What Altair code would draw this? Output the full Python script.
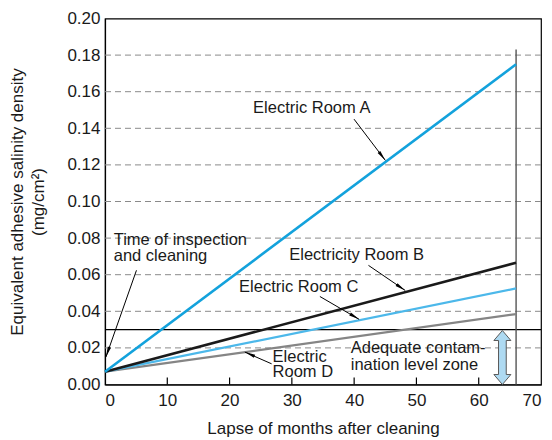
import math
import altair as alt
import pandas as pd

# ---------------- data ----------------
months = [0, 66]
room_a = [0.007, 0.175]
room_b = [0.007, 0.0665]
room_c = [0.007, 0.0525]
room_d = [0.007, 0.0385]
series_names = ["Electric Room D", "Electric Room C", "Electricity Room B", "Electric Room A"]
series_colors = ["#858585", "#4cb8ea", "#1a1a1a", "#13a2dc"]
series_widths = [2.2, 2.2, 2.6, 2.6]

x_ticks = [0, 10, 20, 30, 40, 50, 60, 70]
y_ticks = [0.0, 0.02, 0.04, 0.06, 0.08, 0.10, 0.12, 0.14, 0.16, 0.18, 0.20]
grid_y = [0.02, 0.04, 0.06, 0.08, 0.10, 0.12, 0.14, 0.16, 0.18]
limit_level = 0.03
inspection_month = 66
inspection_top = 0.183
zone_month = 63.8
zone_range = [0.0, 0.0295]

# annotation texts (lines), anchor in data units
ann_text = [
    "Electric Room A",
    "Time of inspection", "and cleaning",
    "Electricity Room B",
    "Electric Room C",
    "Electric", "Room D",
    "Adequate contam-", "ination level zone",
]
ann_x = [33.2, 1.4, 1.4, 40.4, 31.1, 26.9, 26.9, 39.45, 39.45]
ann_y = [0.1510, 0.0791, 0.0700, 0.0709, 0.0532, 0.0149, 0.0066, 0.0199, 0.0107]
ann_align = ["center", "left", "left", "center", "center", "left", "left", "left", "left"]

# arrows: start -> tip
arr_x = [39.98, 5.05, 42.3, 34.5, 26.75]
arr_y = [0.1450, 0.0624, 0.0651, 0.0481, 0.0113]
arr_x2 = [45.0, 0.15, 48.2, 40.8, 22.46]
arr_y2 = [0.1225, 0.0150, 0.0514, 0.0356, 0.0177]

# ---------------- layout ----------------
W, H = 436, 366
XMAX, YMAX = 70, 0.20
FONT = "Liberation Sans"

xs = alt.Scale(domain=[0, XMAX], nice=False, zero=False)
ys = alt.Scale(domain=[0, YMAX], nice=False, zero=False)

x_axis = alt.Axis(values=x_ticks, format="d", title="Lapse of months after cleaning",
                  ticks=False, grid=False, domainColor="black", domainWidth=1.2,
                  labelPadding=8, titlePadding=12, labelOverlap=False)
y_axis = alt.Axis(values=y_ticks, format=".2f",
                  title=["Equivalent adhesive salinity density", "(mg/cm²)"],
                  ticks=False, grid=False, domainColor="black", domainWidth=1.2,
                  labelPadding=5, titlePadding=19, titleLineHeight=21,
                  labelOverlap=False)


def X(field):
    return alt.X(field, scale=xs, axis=x_axis)


def Y(field):
    return alt.Y(field, scale=ys, axis=y_axis)


rows = []
for name, vals in zip(series_names, [room_d, room_c, room_b, room_a]):
    for m, v in zip(months, vals):
        rows.append({"series": name, "month": m, "value": v})
lines_df = pd.DataFrame(rows)

base_axes = alt.Chart(pd.DataFrame({"x": [0], "y": [0]})).mark_point(opacity=0).encode(
    x=X("x:Q"), y=Y("y:Q"),
)

grid = alt.Chart(pd.DataFrame({"y": grid_y})).mark_rule(
    color="#8a8a8a", strokeWidth=1, strokeDash=[6, 4]
).encode(y=Y("y:Q"))

hline = alt.Chart(pd.DataFrame({"y": [limit_level]})).mark_rule(
    color="black", strokeWidth=1.1
).encode(y=Y("y:Q"))

vline = alt.Chart(pd.DataFrame({"x": [inspection_month], "y": [0.0], "y2": [inspection_top]})).mark_rule(
    color="#555555", strokeWidth=1.4
).encode(x=X("x:Q"), y=Y("y:Q"), y2="y2:Q")

line_layers = []
for name, col, w in zip(series_names, series_colors, series_widths):
    line_layers.append(
        alt.Chart(lines_df[lines_df.series == name]).mark_line(color=col, strokeWidth=w).encode(
            x=X("month:Q"), y=Y("value:Q")
        )
    )

ticks = alt.Chart(pd.DataFrame({"x": x_ticks[1:-1]})).mark_rule(color="black", strokeWidth=1.2).encode(
    x=X("x:Q"), y=alt.value(H), y2=alt.value(H - 7)
)

arrow_df = pd.DataFrame({"x": arr_x, "y": arr_y, "x2": arr_x2, "y2": arr_y2})
sx, sy = W / XMAX, H / YMAX
arrow_df["angle"] = [
    (math.degrees(math.atan2((b - a) * sx, (d - c) * sy)) + 360) % 360
    for a, b, c, d in zip(arr_x, arr_x2, arr_y, arr_y2)
]
arrow_lines = alt.Chart(arrow_df).mark_rule(color="black", strokeWidth=1).encode(
    x=X("x:Q"), y=Y("y:Q"), x2="x2:Q", y2="y2:Q"
)
arrow_heads = alt.Chart(arrow_df).mark_point(
    shape="M0,0 L0.32,2 L-0.32,2 Z", filled=True, color="black", size=110, opacity=1
).encode(
    x=X("x2:Q"), y=Y("y2:Q"), angle=alt.Angle("angle:Q", scale=None)
)

ann_df = pd.DataFrame({"t": ann_text, "x": ann_x, "y": ann_y, "a": ann_align})
texts = []
for al in ["left", "center"]:
    texts.append(
        alt.Chart(ann_df[ann_df.a == al]).mark_text(
            align=al, baseline="middle", font=FONT, fontSize=16.5, color="#1a1a1a"
        ).encode(x=X("x:Q"), y=Y("y:Q"), text="t:N")
    )

zone_df = pd.DataFrame({"x": [zone_month], "y": [(zone_range[0] + zone_range[1]) / 2]})
zone_arrow = alt.Chart(zone_df).mark_point(
    shape="M0,-1 L0.315,-0.63 L0.143,-0.63 L0.143,0.63 L0.315,0.63 L0,1 L-0.315,0.63 L-0.143,0.63 L-0.143,-0.63 L-0.315,-0.63 Z",
    filled=True, fill="#aedaf2", stroke="#5a5a5a", strokeWidth=1, size=2916, opacity=1,
).encode(x=X("x:Q"), y=Y("y:Q"))

chart = alt.layer(
    base_axes, grid, hline, vline, *line_layers, ticks, arrow_lines, arrow_heads, *texts, zone_arrow
).properties(
    width=W, height=H,
    padding={"left": 97, "top": 10.5, "right": 3, "bottom": 55},
    autosize=alt.AutoSizeParams(type="none"),
).configure_view(
    stroke="black", strokeWidth=1.2
).configure_axis(
    labelFont=FONT, titleFont=FONT, labelFontSize=17, titleFontSize=17,
    labelColor="#1a1a1a", titleColor="#1a1a1a", titleFontWeight="normal",
    labelOverlap=False,
)

chart.save("out.html", embed_options={"renderer": "svg", "actions": False})
